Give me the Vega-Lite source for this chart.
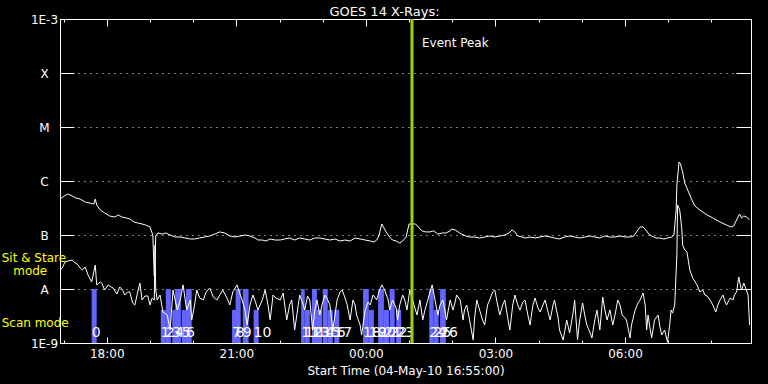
{
  "$schema": "https://vega.github.io/schema/vega-lite/v6.json",
  "width": 691,
  "height": 324,
  "autosize": {"type": "none"},
  "padding": {"left": 60, "top": 19, "right": 17, "bottom": 41},
  "background": "black",
  "title": {"text": "GOES 14 X-Rays:", "color": "white", "font": "DejaVu Sans", "fontSize": 13, "fontWeight": "normal", "anchor": "middle", "dx": -21, "offset": -6},
  "config": {
    "view": {"stroke": "white", "strokeWidth": 1},
    "axis": {"domainColor": "white", "tickColor": "white", "labelColor": "white", "titleColor": "white", "labelFont": "DejaVu Sans", "titleFont": "DejaVu Sans", "labelFontSize": 12, "titleFontSize": 12, "titleFontWeight": "normal", "grid": false, "labelOverlap": false, "labelFlush": false}
  },
  "datasets": {
    "long": [
      {"t":"2010-05-04T16:55","f":4.64e-7},{"t":"2010-05-04T17:01","f":5.28e-7},{"t":"2010-05-04T17:06","f":5.75e-7},{"t":"2010-05-04T17:12","f":5.28e-7},{"t":"2010-05-04T17:17","f":4.84e-7},{"t":"2010-05-04T17:23","f":4.64e-7},{"t":"2010-05-04T17:30","f":4.08e-7},{"t":"2010-05-04T17:37","f":3.91e-7},{"t":"2010-05-04T17:42","f":3.75e-7},{"t":"2010-05-04T17:44","f":4.64e-7},{"t":"2010-05-04T17:46","f":3.59e-7},{"t":"2010-05-04T17:51","f":2.90e-7},{"t":"2010-05-04T17:57","f":2.56e-7},{"t":"2010-05-04T18:04","f":2.25e-7},{"t":"2010-05-04T18:11","f":2.15e-7},{"t":"2010-05-04T18:16","f":2.35e-7},{"t":"2010-05-04T18:21","f":2.15e-7},{"t":"2010-05-04T18:27","f":2.07e-7},{"t":"2010-05-04T18:32","f":1.98e-7},{"t":"2010-05-04T18:38","f":1.74e-7},{"t":"2010-05-04T18:43","f":1.67e-7},{"t":"2010-05-04T18:49","f":1.60e-7},{"t":"2010-05-04T18:54","f":1.53e-7},{"t":"2010-05-04T19:00","f":1.41e-7},{"t":"2010-05-04T19:03","f":1.09e-7},{"t":"2010-05-04T19:04","f":9.58e-8},{"t":"2010-05-04T19:06","f":1.74e-8},{"t":"2010-05-04T19:07","f":3.16e-8},{"t":"2010-05-04T19:08","f":9.58e-8},{"t":"2010-05-04T19:11","f":1.09e-7},{"t":"2010-05-04T19:17","f":1.04e-7},{"t":"2010-05-04T19:22","f":1.09e-7},{"t":"2010-05-04T19:28","f":1.00e-7},{"t":"2010-05-04T19:35","f":9.18e-8},{"t":"2010-05-04T19:42","f":9.18e-8},{"t":"2010-05-04T19:49","f":8.80e-8},{"t":"2010-05-04T19:56","f":8.43e-8},{"t":"2010-05-04T20:02","f":8.43e-8},{"t":"2010-05-04T20:09","f":8.80e-8},{"t":"2010-05-04T20:16","f":9.18e-8},{"t":"2010-05-04T20:23","f":9.58e-8},{"t":"2010-05-04T20:30","f":1.04e-7},{"t":"2010-05-04T20:37","f":1.14e-7},{"t":"2010-05-04T20:44","f":1.09e-7},{"t":"2010-05-04T20:51","f":9.58e-8},{"t":"2010-05-04T20:58","f":9.18e-8},{"t":"2010-05-04T21:05","f":9.58e-8},{"t":"2010-05-04T21:12","f":1.00e-7},{"t":"2010-05-04T21:19","f":9.58e-8},{"t":"2010-05-04T21:26","f":8.80e-8},{"t":"2010-05-04T21:30","f":8.08e-8},{"t":"2010-05-04T21:36","f":8.08e-8},{"t":"2010-05-04T21:41","f":7.74e-8},{"t":"2010-05-04T21:47","f":8.43e-8},{"t":"2010-05-04T21:54","f":8.08e-8},{"t":"2010-05-04T22:01","f":8.08e-8},{"t":"2010-05-04T22:07","f":8.43e-8},{"t":"2010-05-04T22:14","f":8.80e-8},{"t":"2010-05-04T22:21","f":8.08e-8},{"t":"2010-05-04T22:28","f":8.80e-8},{"t":"2010-05-04T22:35","f":8.43e-8},{"t":"2010-05-04T22:42","f":8.08e-8},{"t":"2010-05-04T22:49","f":8.80e-8},{"t":"2010-05-04T22:56","f":8.80e-8},{"t":"2010-05-04T23:03","f":8.43e-8},{"t":"2010-05-04T23:10","f":8.08e-8},{"t":"2010-05-04T23:17","f":8.43e-8},{"t":"2010-05-04T23:24","f":7.74e-8},{"t":"2010-05-04T23:31","f":8.08e-8},{"t":"2010-05-04T23:38","f":7.74e-8},{"t":"2010-05-04T23:45","f":8.80e-8},{"t":"2010-05-04T23:52","f":8.43e-8},{"t":"2010-05-04T23:59","f":8.08e-8},{"t":"2010-05-05T00:06","f":7.74e-8},{"t":"2010-05-05T00:11","f":7.42e-8},{"t":"2010-05-05T00:15","f":8.08e-8},{"t":"2010-05-05T00:18","f":9.58e-8},{"t":"2010-05-05T00:22","f":1.60e-7},{"t":"2010-05-05T00:25","f":1.35e-7},{"t":"2010-05-05T00:29","f":1.09e-7},{"t":"2010-05-05T00:33","f":9.18e-8},{"t":"2010-05-05T00:37","f":8.08e-8},{"t":"2010-05-05T00:42","f":7.74e-8},{"t":"2010-05-05T00:47","f":7.11e-8},{"t":"2010-05-05T00:51","f":7.74e-8},{"t":"2010-05-05T00:56","f":9.18e-8},{"t":"2010-05-05T00:58","f":1.24e-7},{"t":"2010-05-05T01:00","f":1.60e-7},{"t":"2010-05-05T01:04","f":1.60e-7},{"t":"2010-05-05T01:09","f":1.60e-7},{"t":"2010-05-05T01:14","f":1.35e-7},{"t":"2010-05-05T01:18","f":1.19e-7},{"t":"2010-05-05T01:23","f":1.14e-7},{"t":"2010-05-05T01:29","f":1.14e-7},{"t":"2010-05-05T01:34","f":1.19e-7},{"t":"2010-05-05T01:40","f":1.04e-7},{"t":"2010-05-05T01:46","f":1.09e-7},{"t":"2010-05-05T01:51","f":1.09e-7},{"t":"2010-05-05T01:57","f":1.19e-7},{"t":"2010-05-05T01:59","f":1.29e-7},{"t":"2010-05-05T02:04","f":1.24e-7},{"t":"2010-05-05T02:08","f":1.14e-7},{"t":"2010-05-05T02:13","f":1.04e-7},{"t":"2010-05-05T02:19","f":9.58e-8},{"t":"2010-05-05T02:24","f":9.18e-8},{"t":"2010-05-05T02:31","f":9.18e-8},{"t":"2010-05-05T02:38","f":8.80e-8},{"t":"2010-05-05T02:45","f":9.18e-8},{"t":"2010-05-05T02:52","f":9.58e-8},{"t":"2010-05-05T02:59","f":9.18e-8},{"t":"2010-05-05T03:06","f":9.58e-8},{"t":"2010-05-05T03:13","f":1.00e-7},{"t":"2010-05-05T03:19","f":1.09e-7},{"t":"2010-05-05T03:23","f":1.24e-7},{"t":"2010-05-05T03:27","f":1.14e-7},{"t":"2010-05-05T03:31","f":9.58e-8},{"t":"2010-05-05T03:37","f":9.18e-8},{"t":"2010-05-05T03:42","f":8.80e-8},{"t":"2010-05-05T03:48","f":9.18e-8},{"t":"2010-05-05T03:55","f":8.80e-8},{"t":"2010-05-05T04:02","f":9.18e-8},{"t":"2010-05-05T04:09","f":9.58e-8},{"t":"2010-05-05T04:16","f":9.18e-8},{"t":"2010-05-05T04:22","f":8.80e-8},{"t":"2010-05-05T04:29","f":8.43e-8},{"t":"2010-05-05T04:36","f":9.18e-8},{"t":"2010-05-05T04:43","f":9.58e-8},{"t":"2010-05-05T04:50","f":9.18e-8},{"t":"2010-05-05T04:57","f":8.80e-8},{"t":"2010-05-05T05:04","f":9.18e-8},{"t":"2010-05-05T05:11","f":9.58e-8},{"t":"2010-05-05T05:18","f":9.18e-8},{"t":"2010-05-05T05:25","f":8.80e-8},{"t":"2010-05-05T05:32","f":9.58e-8},{"t":"2010-05-05T05:39","f":9.18e-8},{"t":"2010-05-05T05:46","f":9.18e-8},{"t":"2010-05-05T05:53","f":9.58e-8},{"t":"2010-05-05T06:00","f":9.18e-8},{"t":"2010-05-05T06:07","f":9.18e-8},{"t":"2010-05-05T06:12","f":9.58e-8},{"t":"2010-05-05T06:16","f":1.14e-7},{"t":"2010-05-05T06:21","f":1.41e-7},{"t":"2010-05-05T06:25","f":1.41e-7},{"t":"2010-05-05T06:29","f":1.24e-7},{"t":"2010-05-05T06:33","f":1.04e-7},{"t":"2010-05-05T06:37","f":9.58e-8},{"t":"2010-05-05T06:43","f":8.80e-8},{"t":"2010-05-05T06:48","f":8.80e-8},{"t":"2010-05-05T06:54","f":8.43e-8},{"t":"2010-05-05T06:59","f":8.80e-8},{"t":"2010-05-05T07:05","f":9.18e-8},{"t":"2010-05-05T07:08","f":1.00e-7},{"t":"2010-05-05T07:11","f":2.90e-7},{"t":"2010-05-05T07:12","f":8.43e-7},{"t":"2010-05-05T07:15","f":2.25e-6},{"t":"2010-05-05T07:17","f":2.07e-6},{"t":"2010-05-05T07:20","f":1.47e-6},{"t":"2010-05-05T07:23","f":9.18e-7},{"t":"2010-05-05T07:27","f":6.81e-7},{"t":"2010-05-05T07:33","f":4.45e-7},{"t":"2010-05-05T07:37","f":3.44e-7},{"t":"2010-05-05T07:44","f":2.90e-7},{"t":"2010-05-05T07:54","f":2.35e-7},{"t":"2010-05-05T08:02","f":2.07e-7},{"t":"2010-05-05T08:12","f":1.74e-7},{"t":"2010-05-05T08:21","f":1.53e-7},{"t":"2010-05-05T08:27","f":1.41e-7},{"t":"2010-05-05T08:31","f":1.47e-7},{"t":"2010-05-05T08:35","f":1.90e-7},{"t":"2010-05-05T08:39","f":2.45e-7},{"t":"2010-05-05T08:42","f":2.07e-7},{"t":"2010-05-05T08:45","f":2.25e-7},{"t":"2010-05-05T08:49","f":2.15e-7},{"t":"2010-05-05T08:53","f":1.90e-7}
    ],
    "short": [
      {"t":"2010-05-04T16:55","f":2.25e-8},{"t":"2010-05-04T16:58","f":2.45e-8},{"t":"2010-05-04T17:02","f":3.16e-8},{"t":"2010-05-04T17:06","f":3.30e-8},{"t":"2010-05-04T17:12","f":3.44e-8},{"t":"2010-05-04T17:16","f":3.03e-8},{"t":"2010-05-04T17:19","f":2.90e-8},{"t":"2010-05-04T17:23","f":2.45e-8},{"t":"2010-05-04T17:26","f":2.25e-8},{"t":"2010-05-04T17:30","f":2.56e-8},{"t":"2010-05-04T17:34","f":1.82e-8},{"t":"2010-05-04T17:39","f":1.35e-8},{"t":"2010-05-04T17:44","f":2.78e-8},{"t":"2010-05-04T17:46","f":1.19e-8},{"t":"2010-05-04T17:51","f":1.35e-8},{"t":"2010-05-04T17:53","f":1.29e-8},{"t":"2010-05-04T17:57","f":9.58e-9},{"t":"2010-05-04T18:02","f":1.19e-8},{"t":"2010-05-04T18:06","f":1.09e-8},{"t":"2010-05-04T18:09","f":1.04e-8},{"t":"2010-05-04T18:14","f":8.08e-9},{"t":"2010-05-04T18:18","f":1.09e-8},{"t":"2010-05-04T18:22","f":9.58e-9},{"t":"2010-05-04T18:25","f":7.74e-9},{"t":"2010-05-04T18:29","f":8.80e-9},{"t":"2010-05-04T18:32","f":8.80e-9},{"t":"2010-05-04T18:36","f":5.51e-9},{"t":"2010-05-04T18:39","f":5.06e-9},{"t":"2010-05-04T18:43","f":8.80e-9},{"t":"2010-05-04T18:46","f":1.29e-8},{"t":"2010-05-04T18:49","f":6.26e-9},{"t":"2010-05-04T18:53","f":7.42e-9},{"t":"2010-05-04T18:57","f":7.42e-9},{"t":"2010-05-04T19:00","f":5.06e-9},{"t":"2010-05-04T19:03","f":6.81e-9},{"t":"2010-05-04T19:06","f":6.26e-9},{"t":"2010-05-04T19:07","f":6.53e-8},{"t":"2010-05-04T19:08","f":9.58e-9},{"t":"2010-05-04T19:10","f":6.26e-9},{"t":"2010-05-04T19:14","f":7.74e-9},{"t":"2010-05-04T19:18","f":3.75e-9},{"t":"2010-05-04T19:24","f":3.30e-9},{"t":"2010-05-04T19:28","f":1.74e-9},{"t":"2010-05-04T19:32","f":9.58e-9},{"t":"2010-05-04T19:38","f":4.08e-9},{"t":"2010-05-04T19:42","f":6.26e-9},{"t":"2010-05-04T19:46","f":1.19e-8},{"t":"2010-05-04T19:51","f":4.08e-9},{"t":"2010-05-04T19:56","f":6.26e-9},{"t":"2010-05-04T19:58","f":2.67e-9},{"t":"2010-05-04T20:02","f":5.06e-9},{"t":"2010-05-04T20:05","f":9.58e-9},{"t":"2010-05-04T20:09","f":6.81e-9},{"t":"2010-05-04T20:14","f":6.26e-9},{"t":"2010-05-04T20:18","f":8.80e-9},{"t":"2010-05-04T20:23","f":1.04e-8},{"t":"2010-05-04T20:28","f":7.11e-9},{"t":"2010-05-04T20:33","f":6.26e-9},{"t":"2010-05-04T20:37","f":7.74e-9},{"t":"2010-05-04T20:41","f":9.58e-9},{"t":"2010-05-04T20:47","f":6.81e-9},{"t":"2010-05-04T20:51","f":5.06e-9},{"t":"2010-05-04T20:55","f":8.80e-9},{"t":"2010-05-04T21:01","f":1.19e-8},{"t":"2010-05-04T21:05","f":8.08e-9},{"t":"2010-05-04T21:08","f":6.26e-9},{"t":"2010-05-04T21:12","f":4.08e-9},{"t":"2010-05-04T21:15","f":2.15e-9},{"t":"2010-05-04T21:19","f":5.06e-9},{"t":"2010-05-04T21:23","f":7.74e-9},{"t":"2010-05-04T21:27","f":5.51e-9},{"t":"2010-05-04T21:30","f":4.08e-9},{"t":"2010-05-04T21:36","f":6.26e-9},{"t":"2010-05-04T21:40","f":9.58e-9},{"t":"2010-05-04T21:44","f":5.06e-9},{"t":"2010-05-04T21:47","f":2.67e-9},{"t":"2010-05-04T21:51","f":7.74e-9},{"t":"2010-05-04T21:55","f":6.81e-9},{"t":"2010-05-04T22:01","f":6.26e-9},{"t":"2010-05-04T22:05","f":8.43e-9},{"t":"2010-05-04T22:10","f":2.67e-9},{"t":"2010-05-04T22:14","f":5.06e-9},{"t":"2010-05-04T22:17","f":6.26e-9},{"t":"2010-05-04T22:21","f":1.74e-9},{"t":"2010-05-04T22:26","f":5.06e-9},{"t":"2010-05-04T22:28","f":7.74e-9},{"t":"2010-05-04T22:33","f":5.06e-9},{"t":"2010-05-04T22:35","f":4.08e-9},{"t":"2010-05-04T22:39","f":7.42e-9},{"t":"2010-05-04T22:42","f":6.26e-9},{"t":"2010-05-04T22:46","f":1.74e-9},{"t":"2010-05-04T22:49","f":4.08e-9},{"t":"2010-05-04T22:52","f":6.26e-9},{"t":"2010-05-04T22:56","f":3.30e-9},{"t":"2010-05-04T22:59","f":5.06e-9},{"t":"2010-05-04T23:03","f":7.74e-9},{"t":"2010-05-04T23:07","f":6.26e-9},{"t":"2010-05-04T23:10","f":5.06e-9},{"t":"2010-05-04T23:14","f":1.74e-9},{"t":"2010-05-04T23:17","f":3.30e-9},{"t":"2010-05-04T23:20","f":6.26e-9},{"t":"2010-05-04T23:24","f":8.80e-9},{"t":"2010-05-04T23:27","f":9.58e-9},{"t":"2010-05-04T23:31","f":6.81e-9},{"t":"2010-05-04T23:34","f":5.06e-9},{"t":"2010-05-04T23:38","f":2.67e-9},{"t":"2010-05-04T23:42","f":6.26e-9},{"t":"2010-05-04T23:45","f":5.06e-9},{"t":"2010-05-04T23:47","f":3.30e-9},{"t":"2010-05-04T23:52","f":2.15e-9},{"t":"2010-05-04T23:54","f":1.41e-9},{"t":"2010-05-04T23:59","f":4.08e-9},{"t":"2010-05-05T00:03","f":5.75e-9},{"t":"2010-05-05T00:06","f":5.06e-9},{"t":"2010-05-05T00:10","f":7.74e-9},{"t":"2010-05-05T00:15","f":6.26e-9},{"t":"2010-05-05T00:19","f":9.58e-9},{"t":"2010-05-05T00:22","f":1.19e-8},{"t":"2010-05-05T00:26","f":9.58e-9},{"t":"2010-05-05T00:31","f":6.26e-9},{"t":"2010-05-05T00:33","f":4.08e-9},{"t":"2010-05-05T00:37","f":6.26e-9},{"t":"2010-05-05T00:42","f":4.45e-9},{"t":"2010-05-05T00:44","f":2.67e-9},{"t":"2010-05-05T00:47","f":5.06e-9},{"t":"2010-05-05T00:51","f":7.74e-9},{"t":"2010-05-05T00:54","f":6.26e-9},{"t":"2010-05-05T00:57","f":4.08e-9},{"t":"2010-05-05T01:01","f":9.58e-9},{"t":"2010-05-05T01:05","f":6.26e-9},{"t":"2010-05-05T01:08","f":4.45e-9},{"t":"2010-05-05T01:11","f":3.30e-9},{"t":"2010-05-05T01:15","f":6.26e-9},{"t":"2010-05-05T01:19","f":2.67e-9},{"t":"2010-05-05T01:22","f":4.08e-9},{"t":"2010-05-05T01:26","f":6.26e-9},{"t":"2010-05-05T01:29","f":8.80e-9},{"t":"2010-05-05T01:32","f":1.19e-8},{"t":"2010-05-05T01:36","f":6.26e-9},{"t":"2010-05-05T01:40","f":3.30e-9},{"t":"2010-05-05T01:43","f":5.06e-9},{"t":"2010-05-05T01:47","f":6.26e-9},{"t":"2010-05-05T01:50","f":3.75e-9},{"t":"2010-05-05T01:52","f":2.67e-9},{"t":"2010-05-05T01:57","f":6.26e-9},{"t":"2010-05-05T02:01","f":4.08e-9},{"t":"2010-05-05T02:04","f":5.75e-9},{"t":"2010-05-05T02:06","f":7.74e-9},{"t":"2010-05-05T02:11","f":6.26e-9},{"t":"2010-05-05T02:15","f":2.67e-9},{"t":"2010-05-05T02:17","f":4.08e-9},{"t":"2010-05-05T02:20","f":5.06e-9},{"t":"2010-05-05T02:24","f":2.67e-9},{"t":"2010-05-05T02:29","f":1.14e-9},{"t":"2010-05-05T02:31","f":2.90e-9},{"t":"2010-05-05T02:34","f":6.26e-9},{"t":"2010-05-05T02:38","f":4.08e-9},{"t":"2010-05-05T02:42","f":2.67e-9},{"t":"2010-05-05T02:45","f":2.15e-9},{"t":"2010-05-05T02:49","f":5.06e-9},{"t":"2010-05-05T02:52","f":6.26e-9},{"t":"2010-05-05T02:56","f":8.80e-9},{"t":"2010-05-05T02:59","f":9.58e-9},{"t":"2010-05-05T03:03","f":5.06e-9},{"t":"2010-05-05T03:06","f":3.30e-9},{"t":"2010-05-05T03:10","f":5.06e-9},{"t":"2010-05-05T03:13","f":6.26e-9},{"t":"2010-05-05T03:17","f":2.90e-9},{"t":"2010-05-05T03:20","f":1.74e-9},{"t":"2010-05-05T03:24","f":5.06e-9},{"t":"2010-05-05T03:27","f":7.74e-9},{"t":"2010-05-05T03:31","f":5.06e-9},{"t":"2010-05-05T03:34","f":4.08e-9},{"t":"2010-05-05T03:38","f":5.75e-9},{"t":"2010-05-05T03:41","f":6.26e-9},{"t":"2010-05-05T03:45","f":3.30e-9},{"t":"2010-05-05T03:48","f":2.15e-9},{"t":"2010-05-05T03:52","f":5.06e-9},{"t":"2010-05-05T03:55","f":6.81e-9},{"t":"2010-05-05T03:59","f":4.45e-9},{"t":"2010-05-05T04:02","f":3.75e-9},{"t":"2010-05-05T04:06","f":5.06e-9},{"t":"2010-05-05T04:09","f":6.26e-9},{"t":"2010-05-05T04:13","f":3.75e-9},{"t":"2010-05-05T04:16","f":2.67e-9},{"t":"2010-05-05T04:20","f":5.06e-9},{"t":"2010-05-05T04:22","f":6.26e-9},{"t":"2010-05-05T04:27","f":2.90e-9},{"t":"2010-05-05T04:29","f":1.74e-9},{"t":"2010-05-05T04:34","f":1.14e-9},{"t":"2010-05-05T04:39","f":2.67e-9},{"t":"2010-05-05T04:43","f":1.53e-9},{"t":"2010-05-05T04:48","f":3.75e-9},{"t":"2010-05-05T04:50","f":6.26e-9},{"t":"2010-05-05T04:54","f":1.14e-9},{"t":"2010-05-05T04:57","f":2.67e-9},{"t":"2010-05-05T05:01","f":5.51e-9},{"t":"2010-05-05T05:04","f":3.30e-9},{"t":"2010-05-05T05:07","f":2.15e-9},{"t":"2010-05-05T05:11","f":1.60e-9},{"t":"2010-05-05T05:14","f":1.24e-9},{"t":"2010-05-05T05:18","f":2.67e-9},{"t":"2010-05-05T05:21","f":4.08e-9},{"t":"2010-05-05T05:25","f":1.74e-9},{"t":"2010-05-05T05:29","f":7.11e-9},{"t":"2010-05-05T05:32","f":4.08e-9},{"t":"2010-05-05T05:35","f":2.67e-9},{"t":"2010-05-05T05:39","f":4.08e-9},{"t":"2010-05-05T05:43","f":2.15e-9},{"t":"2010-05-05T05:46","f":3.30e-9},{"t":"2010-05-05T05:50","f":6.26e-9},{"t":"2010-05-05T05:53","f":5.06e-9},{"t":"2010-05-05T05:56","f":3.30e-9},{"t":"2010-05-05T06:00","f":2.90e-9},{"t":"2010-05-05T06:02","f":2.67e-9},{"t":"2010-05-05T06:07","f":1.24e-9},{"t":"2010-05-05T06:09","f":2.15e-9},{"t":"2010-05-05T06:14","f":4.08e-9},{"t":"2010-05-05T06:18","f":5.51e-9},{"t":"2010-05-05T06:21","f":6.26e-9},{"t":"2010-05-05T06:25","f":8.43e-9},{"t":"2010-05-05T06:28","f":5.06e-9},{"t":"2010-05-05T06:30","f":1.74e-9},{"t":"2010-05-05T06:32","f":3.30e-9},{"t":"2010-05-05T06:34","f":2.15e-9},{"t":"2010-05-05T06:37","f":1.24e-9},{"t":"2010-05-05T06:41","f":2.67e-9},{"t":"2010-05-05T06:46","f":3.30e-9},{"t":"2010-05-05T06:48","f":2.15e-9},{"t":"2010-05-05T06:51","f":1.41e-9},{"t":"2010-05-05T06:55","f":1.74e-9},{"t":"2010-05-05T06:59","f":1.04e-9},{"t":"2010-05-05T07:02","f":2.15e-9},{"t":"2010-05-05T07:04","f":4.08e-9},{"t":"2010-05-05T07:06","f":3.59e-9},{"t":"2010-05-05T07:09","f":5.06e-9},{"t":"2010-05-05T07:12","f":4.26e-8},{"t":"2010-05-05T07:13","f":3.59e-7},{"t":"2010-05-05T07:16","f":2.90e-7},{"t":"2010-05-05T07:19","f":1.24e-7},{"t":"2010-05-05T07:20","f":6.53e-8},{"t":"2010-05-05T07:23","f":5.28e-8},{"t":"2010-05-05T07:26","f":4.84e-8},{"t":"2010-05-05T07:30","f":2.25e-8},{"t":"2010-05-05T07:34","f":1.60e-8},{"t":"2010-05-05T07:40","f":1.19e-8},{"t":"2010-05-05T07:44","f":8.80e-9},{"t":"2010-05-05T07:48","f":9.58e-9},{"t":"2010-05-05T07:51","f":7.74e-9},{"t":"2010-05-05T07:54","f":7.42e-9},{"t":"2010-05-05T07:58","f":6.26e-9},{"t":"2010-05-05T08:02","f":5.06e-9},{"t":"2010-05-05T08:06","f":3.75e-9},{"t":"2010-05-05T08:09","f":5.06e-9},{"t":"2010-05-05T08:12","f":6.26e-9},{"t":"2010-05-05T08:16","f":7.74e-9},{"t":"2010-05-05T08:19","f":5.75e-9},{"t":"2010-05-05T08:21","f":5.06e-9},{"t":"2010-05-05T08:26","f":6.81e-9},{"t":"2010-05-05T08:30","f":6.26e-9},{"t":"2010-05-05T08:32","f":7.74e-9},{"t":"2010-05-05T08:35","f":8.80e-9},{"t":"2010-05-05T08:38","f":1.67e-8},{"t":"2010-05-05T08:41","f":1.04e-8},{"t":"2010-05-05T08:42","f":9.58e-9},{"t":"2010-05-05T08:45","f":1.29e-8},{"t":"2010-05-05T08:46","f":1.19e-8},{"t":"2010-05-05T08:51","f":7.74e-9},{"t":"2010-05-05T08:53","f":2.15e-9}
    ],
    "scans": [
      {"n":"0","s":"2010-05-04T17:39","e":"2010-05-04T17:46","top":1e-8},
      {"n":"1","s":"2010-05-04T19:15","e":"2010-05-04T19:22","top":4.1e-9},
      {"n":"2","s":"2010-05-04T19:22","e":"2010-05-04T19:29","top":1e-8},
      {"n":"3","s":"2010-05-04T19:31","e":"2010-05-04T19:36","top":4.1e-9},
      {"n":"4","s":"2010-05-04T19:35","e":"2010-05-04T19:43","top":1e-8},
      {"n":"5","s":"2010-05-04T19:44","e":"2010-05-04T19:50","top":4.1e-9},
      {"n":"6","s":"2010-05-04T19:50","e":"2010-05-04T19:58","top":1e-8},
      {"n":"7","s":"2010-05-04T20:54","e":"2010-05-04T21:01","top":4.1e-9},
      {"n":"8","s":"2010-05-04T20:59","e":"2010-05-04T21:06","top":1e-8},
      {"n":"9","s":"2010-05-04T21:09","e":"2010-05-04T21:17","top":1e-8},
      {"n":"10","s":"2010-05-04T21:24","e":"2010-05-04T21:31","top":4.1e-9},
      {"n":"11","s":"2010-05-04T22:30","e":"2010-05-04T22:35","top":1e-8},
      {"n":"12","s":"2010-05-04T22:35","e":"2010-05-04T22:42","top":4.1e-9},
      {"n":"13","s":"2010-05-04T22:45","e":"2010-05-04T22:52","top":1e-8},
      {"n":"14","s":"2010-05-04T22:52","e":"2010-05-04T22:59","top":4.1e-9},
      {"n":"15","s":"2010-05-04T23:00","e":"2010-05-04T23:07","top":1e-8},
      {"n":"16","s":"2010-05-04T23:07","e":"2010-05-04T23:14","top":4.1e-9},
      {"n":"17","s":"2010-05-04T23:16","e":"2010-05-04T23:23","top":4.1e-9},
      {"n":"18","s":"2010-05-04T23:56","e":"2010-05-05T00:04","top":1e-8},
      {"n":"19","s":"2010-05-05T00:04","e":"2010-05-05T00:11","top":4.1e-9},
      {"n":"20","s":"2010-05-05T00:17","e":"2010-05-05T00:25","top":1e-8},
      {"n":"21","s":"2010-05-05T00:25","e":"2010-05-05T00:32","top":4.1e-9},
      {"n":"22","s":"2010-05-05T00:33","e":"2010-05-05T00:40","top":1e-8},
      {"n":"23","s":"2010-05-05T00:42","e":"2010-05-05T00:49","top":4.1e-9},
      {"n":"24","s":"2010-05-05T01:28","e":"2010-05-05T01:34","top":1e-8},
      {"n":"25","s":"2010-05-05T01:34","e":"2010-05-05T01:41","top":4.1e-9},
      {"n":"26","s":"2010-05-05T01:43","e":"2010-05-05T01:51","top":1e-8}
    ]
  },
  "resolve": {"axis": {"x": "independent", "y": "independent"}},
  "layer": [
    {
      "data": {"name": "scans"},
      "mark": {"type": "bar", "color": "#6464ff"},
      "encoding": {
        "x": {"field": "s", "type": "temporal", "scale": {"domain": [{"year": 2010, "month": 5, "date": 4, "hours": 16, "minutes": 55}, {"year": 2010, "month": 5, "date": 5, "hours": 8, "minutes": 55}]},
              "axis": {"orient": "top", "values": [{"year": 2010, "month": 5, "date": 4, "hours": 18}, {"year": 2010, "month": 5, "date": 4, "hours": 21}, {"year": 2010, "month": 5, "date": 5, "hours": 0}, {"year": 2010, "month": 5, "date": 5, "hours": 3}, {"year": 2010, "month": 5, "date": 5, "hours": 6}], "labels": false, "tickSize": -7, "title": null}},
        "x2": {"field": "e"},
        "y": {"field": "top", "type": "quantitative", "scale": {"type": "log", "domain": [1e-9, 1e-3]}, "axis": null},
        "y2": {"datum": 1e-9}
      }
    },
    {
      "data": {"name": "scans"},
      "mark": {"type": "text", "color": "white", "font": "DejaVu Sans", "fontSize": 14, "align": "left", "baseline": "middle", "dx": 0},
      "encoding": {
        "x": {"field": "s", "type": "temporal",
              "axis": {"orient": "top", "values": [{"year": 2010, "month": 5, "date": 4, "hours": 17}, {"year": 2010, "month": 5, "date": 4, "hours": 19}, {"year": 2010, "month": 5, "date": 4, "hours": 20}, {"year": 2010, "month": 5, "date": 4, "hours": 22}, {"year": 2010, "month": 5, "date": 4, "hours": 23}, {"year": 2010, "month": 5, "date": 5, "hours": 1}, {"year": 2010, "month": 5, "date": 5, "hours": 2}, {"year": 2010, "month": 5, "date": 5, "hours": 4}, {"year": 2010, "month": 5, "date": 5, "hours": 5}, {"year": 2010, "month": 5, "date": 5, "hours": 7}, {"year": 2010, "month": 5, "date": 5, "hours": 8}], "labels": false, "domain": false, "tickSize": -3, "title": null}},
        "y": {"datum": 1.55e-9, "type": "quantitative", "axis": null},
        "text": {"field": "n"}
      }
    },
    {
      "data": {"name": "long"},
      "mark": {"type": "line", "color": "white", "strokeWidth": 1, "clip": true},
      "encoding": {
        "x": {"field": "t", "type": "temporal",
              "axis": {"orient": "bottom", "values": [{"year": 2010, "month": 5, "date": 4, "hours": 18}, {"year": 2010, "month": 5, "date": 4, "hours": 21}, {"year": 2010, "month": 5, "date": 5, "hours": 0}, {"year": 2010, "month": 5, "date": 5, "hours": 3}, {"year": 2010, "month": 5, "date": 5, "hours": 6}], "format": "%H:%M", "formatType": "time", "tickSize": -6, "labelPadding": 11, "title": "Start Time (04-May-10 16:55:00)", "titlePadding": 6}},
        "y": {"field": "f", "type": "quantitative",
              "axis": {"orient": "left", "values": [1e-9, 1e-8, 1e-7, 1e-6, 1e-5, 1e-4, 1e-3], "labelExpr": "datum.value < 5e-9 ? '1E-9' : datum.value < 5e-8 ? 'A' : datum.value < 5e-7 ? 'B' : datum.value < 5e-6 ? 'C' : datum.value < 5e-5 ? 'M' : datum.value < 5e-4 ? 'X' : '1E-3'", "tickSize": -14, "labelPadding": 30, "labelAlign": "center", "labelBaseline": "middle", "grid": true, "gridColor": "white", "gridDash": [1, 5], "gridOpacity": 1, "title": null}}
      }
    },
    {
      "data": {"name": "short"},
      "mark": {"type": "line", "color": "white", "strokeWidth": 1, "clip": true},
      "encoding": {
        "x": {"field": "t", "type": "temporal",
              "axis": {"orient": "bottom", "values": [{"year": 2010, "month": 5, "date": 4, "hours": 17}, {"year": 2010, "month": 5, "date": 4, "hours": 19}, {"year": 2010, "month": 5, "date": 4, "hours": 20}, {"year": 2010, "month": 5, "date": 4, "hours": 22}, {"year": 2010, "month": 5, "date": 4, "hours": 23}, {"year": 2010, "month": 5, "date": 5, "hours": 1}, {"year": 2010, "month": 5, "date": 5, "hours": 2}, {"year": 2010, "month": 5, "date": 5, "hours": 4}, {"year": 2010, "month": 5, "date": 5, "hours": 5}, {"year": 2010, "month": 5, "date": 5, "hours": 7}, {"year": 2010, "month": 5, "date": 5, "hours": 8}], "labels": false, "domain": false, "tickSize": -3, "title": null}},
        "y": {"field": "f", "type": "quantitative",
              "axis": {"orient": "right", "values": [1e-8, 1e-7, 1e-6, 1e-5, 1e-4], "labels": false, "tickSize": -15, "title": null}}
      }
    },
    {
      "data": {"values": [{"t": "2010-05-05T01:04", "label": "Event Peak"}]},
      "mark": {"type": "rule", "color": "#a0d200", "strokeWidth": 3},
      "encoding": {
        "x": {"field": "t", "type": "temporal", "axis": null}
      }
    },
    {
      "data": {"values": [{"t": "2010-05-05T01:04", "label": "Event Peak"}]},
      "mark": {"type": "text", "color": "white", "font": "DejaVu Sans", "fontSize": 12, "align": "left", "baseline": "middle", "dx": 10},
      "encoding": {
        "x": {"field": "t", "type": "temporal", "axis": null},
        "y": {"datum": 3.6e-4, "type": "quantitative", "axis": null},
        "text": {"field": "label"}
      }
    },
    {
      "data": {"values": [
        {"label": "Sit & Stare", "t": "2010-05-04T15:34", "f": 3.75e-8},
        {"label": "mode", "t": "2010-05-04T15:50", "f": 2.15e-8},
        {"label": "Scan mode", "t": "2010-05-04T15:34", "f": 2.35e-9}
      ]},
      "mark": {"type": "text", "color": "yellow", "font": "DejaVu Sans", "fontSize": 12, "align": "left", "baseline": "middle"},
      "encoding": {
        "x": {"field": "t", "type": "temporal", "axis": null},
        "y": {"field": "f", "type": "quantitative", "axis": null},
        "text": {"field": "label"}
      }
    }
  ]
}
